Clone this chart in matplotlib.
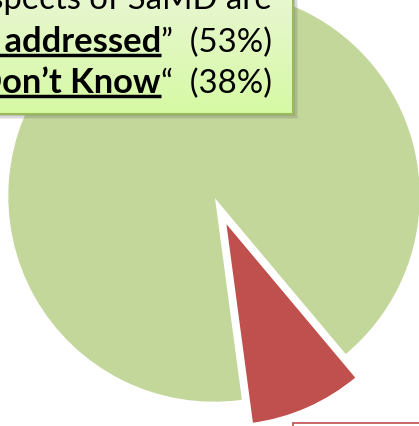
import matplotlib
matplotlib.use("Agg")
import matplotlib.pyplot as plt
import numpy as np
from matplotlib.patches import Rectangle

# survey answers: how SaMD aspects are covered
labels = ["Other", "Not addressed", "Don't Know"]
shares = [9, 53, 38]
slice_colors = ["#C0504D", "#C4D79B", "#C4D79B"]

note_lines = [
    [("Aspects of SaMD are", False, False)],
    [("\u201c", False, False), ("Not addressed", True, True), ("\u201d  (53%)", False, False)],
    [("\u201c", False, False), ("Don\u2019t Know", True, True), ("\u201c  (38%)", False, False)],
]

W, H = 419, 427
fig = plt.figure(figsize=(W / 100, H / 100), dpi=100)
ax = fig.add_axes([0, 0, 1, 1])
ax.set_xlim(0, W)
ax.set_ylim(0, H)
ax.set_aspect("equal")
ax.axis("off")

# explode is in data units here (pixels), pie radius 205
wedges, _ = ax.pie(shares, colors=slice_colors, explode=[27, 0, 0],
                   startangle=-82.4, counterclock=True,
                   center=(214, H - 197), radius=205,
                   wedgeprops=dict(linewidth=1))
wedges[0].set_edgecolor("white")
wedges[0].set_linewidth(1.5)
for w in wedges[1:]:
    w.set_edgecolor("#C4D79B")
ax.set_xlim(0, W)
ax.set_ylim(0, H)

# note box with soft shadow and a light green gradient
bx0, by0, bx1, by1 = -10, H - 115, 293, H + 10
for i, a in enumerate([0.10, 0.14, 0.20]):
    off = 5 - i * 1.5
    ax.add_patch(Rectangle((bx0 + off, by0 - off), bx1 - bx0, by1 - by0,
                           facecolor="#606060", edgecolor="none", alpha=a, zorder=3))
box = Rectangle((bx0, by0), bx1 - bx0, by1 - by0, facecolor="none",
                edgecolor="#9BBB59", linewidth=1.5, zorder=5)
ax.add_patch(box)
grad = np.linspace(0, 1, 64).reshape(-1, 1)
top = np.array(matplotlib.colors.to_rgb("#E9F6D3"))
bot = np.array(matplotlib.colors.to_rgb("#D6FAA4"))
img = top + (bot - top) * grad[..., None]
im = ax.imshow(img, extent=(bx0, bx1, by0, by1), origin="upper",
               aspect="auto", zorder=4)
im.set_clip_path(box)

renderer = fig.canvas.get_renderer()


def width_of(s, size, bold):
    t = ax.text(0, 0, s, fontsize=size, family="Lato",
                fontweight="bold" if bold else "normal")
    w = t.get_window_extent(renderer=renderer).width
    t.remove()
    return w


# size the Lato text so it spans like the Calibri original
reg_size = 22 * 82 / width_of("(53%)", 22, False)
bold_size = 22 * 156 / width_of("addressed", 22, True)

right_edge = 272
baselines = [H - 9, H - 52, H - 93]
for segs, yb in zip(note_lines, baselines):
    texts = []
    for s, bold, ul in segs:
        t = ax.text(0, yb, s, fontsize=bold_size if bold else reg_size,
                    family="Lato", fontweight="bold" if bold else "normal",
                    va="baseline", ha="left", color="black", zorder=6)
        texts.append(t)
    widths = [t.get_window_extent(renderer=renderer).width for t in texts]
    x = right_edge - sum(widths)
    for t, w, (s, bold, ul) in zip(texts, widths, segs):
        t.set_x(x)
        if ul:
            ax.plot([x, x + w], [yb - 4, yb - 4], color="black", lw=2.5,
                    solid_capstyle="butt", zorder=6)
        x += w

# edge of the red-bordered label box at the bottom right
ax.add_patch(Rectangle((293, -10), 140, H - 424 + 10, facecolor="white",
                       edgecolor="#C0504D", linewidth=1.2, zorder=5))

fig.savefig("out.png", dpi=100)
